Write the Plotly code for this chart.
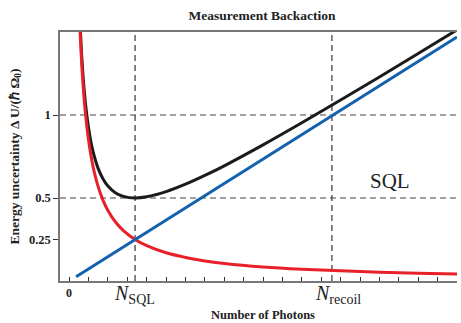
import plotly.graph_objects as go

# Photon number (arbitrary units) and energy uncertainty in units of hbar*Omega_0
n_photons = [0.36, 0.4, 0.45, 0.5, 0.57, 0.65, 0.75, 0.85, 1.0, 1.15, 1.3, 1.5,
             1.75, 2.0, 2.4, 2.8, 3.4, 4, 5, 6, 7, 8, 10, 12, 14, 16, 18, 20]
imprecision = [2.36, 2.125, 1.889, 1.70, 1.491, 1.308, 1.133, 1.0, 0.85, 0.739,
               0.654, 0.567, 0.486, 0.425, 0.354, 0.304, 0.25, 0.2125, 0.17,
               0.142, 0.121, 0.106, 0.085, 0.071, 0.061, 0.053, 0.047, 0.0425]
total = [2.386, 2.154, 1.922, 1.737, 1.533, 1.356, 1.188, 1.063, 0.924, 0.824,
         0.750, 0.677, 0.615, 0.572, 0.530, 0.510, 0.500, 0.507, 0.538, 0.583,
         0.636, 0.694, 0.820, 0.953, 1.090, 1.229, 1.370, 1.513]
backaction_n = [0.36, 3.4, 13.55, 20]
backaction = [0.026, 0.25, 0.996, 1.47]

n_sql = 3.4
n_recoil = 13.55
ref_levels = [0.5, 1.0]
y_ticks = [0.25, 0.5, 1.0]
y_tick_text = ["0.25", "0.5", "1"]
x_ticks = [0]
x_tick_text = ["0"]

SERIF = "Liberation Serif"
W, H = 461, 323
ML, MR, MT, MB = 60, 4, 32, 42

fig = go.Figure()
fig.add_trace(go.Scatter(x=n_photons, y=total, mode="lines",
                         line=dict(color="#1b1b1b", width=3, shape="spline")))
fig.add_trace(go.Scatter(x=n_photons, y=imprecision, mode="lines",
                         line=dict(color="#e8202a", width=3, shape="spline")))
fig.add_trace(go.Scatter(x=backaction_n, y=backaction, mode="lines",
                         line=dict(color="#1461ad", width=3)))

dash = "6px,4px"
for lv in ref_levels:
    fig.add_shape(type="line", xref="paper", yref="y", x0=0, x1=1, y0=lv, y1=lv,
                  line=dict(color="#444", width=1.2, dash=dash), layer="below")
for xv in [n_sql, n_recoil]:
    fig.add_shape(type="line", xref="x", yref="paper", x0=xv, x1=xv, y0=0, y1=1,
                  line=dict(color="#333", width=1.2, dash=dash), layer="below")

plot_w = W - ML - MR
plot_h = H - MT - MB

fig.add_annotation(text="<i>N</i><sub>SQL</sub>", x=n_sql - 1.2, xref="x", xanchor="left",
                   y=1 / plot_h, yref="paper", yanchor="top", showarrow=False,
                   font=dict(family=SERIF, size=20, color="#222"))
fig.add_annotation(text="<i>N</i><sub>recoil</sub>", x=n_recoil - 1.0, xref="x", xanchor="left",
                   y=1 / plot_h, yref="paper", yanchor="top", showarrow=False,
                   font=dict(family=SERIF, size=20, color="#222"))
fig.add_annotation(text="SQL", x=16.55, xref="x", y=0.6, yref="y", yanchor="middle",
                   showarrow=False, font=dict(family=SERIF, size=21, color="#222"))
fig.add_annotation(text="<b>Number of Photons</b>", x=(263 - ML) / plot_w, xref="paper",
                   y=-(315 - (H - MB)) / plot_h, yref="paper", yanchor="middle",
                   showarrow=False, font=dict(family=SERIF, size=12.5, color="#222"))
fig.add_annotation(text="<b>Energy uncertainty \u0394 U/(\u210f \u03a9<sub>0</sub>)</b>",
                   x=(15 - ML) / plot_w, xref="paper", xanchor="center",
                   y=0.5, yref="paper", yanchor="middle", textangle=-90,
                   showarrow=False, font=dict(family=SERIF, size=13.5, color="#222"))

fig.update_layout(
    width=W, height=H,
    margin=dict(l=ML, r=MR, t=MT, b=MB),
    paper_bgcolor="white", plot_bgcolor="white",
    showlegend=False,
    title=dict(text="<b>Measurement Backaction</b>", x=262 / W, xanchor="center",
               y=1 - 15 / H, yanchor="middle",
               font=dict(family=SERIF, size=13.5, color="#222")),
    xaxis=dict(range=[-0.47, 20], showgrid=False, zeroline=False,
               showline=True, linecolor="#777", linewidth=1.5, mirror=True,
               ticks="inside", ticklen=4, tickcolor="#333", tickwidth=1,
               tickvals=x_ticks, ticktext=["<b>%s</b>" % t for t in x_tick_text],
               tickfont=dict(family=SERIF, size=12, color="#222"),
               minor=dict(dtick=1, tick0=0, ticks="inside", ticklen=4,
                          tickcolor="#333", showgrid=False)),
    yaxis=dict(range=[0, 1.5], showgrid=False, zeroline=False,
               showline=True, linecolor="#777", linewidth=1.5,
               ticks="outside", ticklen=5, tickcolor="#333", tickwidth=1,
               tickvals=y_ticks, ticktext=["<b>%s</b>" % t for t in y_tick_text],
               tickfont=dict(family=SERIF, size=12.5, color="#222")),
)

fig.write_html("out.html")
